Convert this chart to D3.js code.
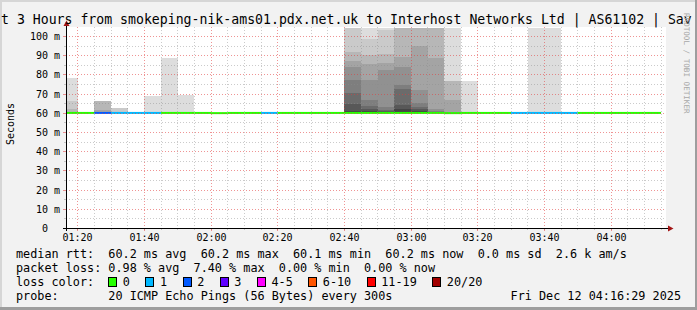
<!DOCTYPE html>
<html>
<head>
<meta charset="utf-8">
<script src="https://cdn.jsdelivr.net/npm/d3@7/dist/d3.min.js"></script>
<style>
  body { margin: 0; background: #f2f2f2; }
  svg { display: block; }
  text { font-family: "DejaVu Sans Mono", monospace; white-space: pre; }
</style>
</head>
<body>
<svg width="697" height="310"></svg>
<script>
// graph window (UTC) and value range
const day = "2025-12-12";
const windowStart = "01:16:29";
const windowEnd = "04:16:29";
const yMax = 104.7;

// 5 minute steps, start of each step
const binTimes = [
  "01:15", "01:20", "01:25", "01:30", "01:35", "01:40", "01:45", "01:50", "01:55", "02:00", "02:05", "02:10",
  "02:15", "02:20", "02:25", "02:30", "02:35", "02:40", "02:45", "02:50", "02:55", "03:00", "03:05", "03:10",
  "03:15", "03:20", "03:25", "03:30", "03:35", "03:40", "03:45", "03:50", "03:55", "04:00", "04:05", "04:10"
];
// median rtt (ms)
const median = [
  60.2, 60.2, 60.2, 60.2, 60.2, 60.2, 60.2, 60.2, 60.2, 60.1, 60.2, 60.2,
  60.2, 60.2, 60.2, 60.2, 60.2, 60.2, 60.2, 60.2, 60.2, 60.2, 60.2, 60.1,
  60.2, 60.2, 60.2, 60.2, 60.2, 60.2, 60.2, 60.2, 60.2, 60.2, 60.2, 60.2
];
// lost pings out of 20
const loss = [
  0, 0, 2, 1, 1, 1, 0, 0, 0, 0, 0, 0,
  1, 0, 0, 0, 0, 0, 0, 0, 0, 0, 0, 0,
  0, 0, 0, 1, 1, 1, 1, 0, 0, 0, 0, 0
];

// smoke: steps where pings sit above the median, outermost first (ms).
// pings not listed are on the median line
const smokeBins = ["01:15", "01:25", "01:30", "01:40", "01:45", "01:50",
  "02:40", "02:45", "02:50", "02:55", "03:00", "03:05", "03:10", "03:15", "03:35", "03:40"];
const smokeTops = [
  [78.4, 66.5, 62.0, 60.5],
  [66.5, 66.5, 66.5, 61.5, 60.5],
  [62.8, 62.8, 60.5],
  [68.9],
  [88.9],
  [69.6],
  [120, 120, 92.0, 87.1, 84.2, 77.6, 70.6, 65.1, 61.0, 60.5],
  [120, 98.6, 90.3, 85.6, 77.6, 66.8, 63.7, 62.0, 61.0, 60.5],
  [120, 103.3, 91.1, 86.3, 82.4, 63.3, 61.6, 61.0, 60.6, 60.4],
  [120, 120, 120, 89.4, 84.2, 74.6, 72.9, 64.2, 62.1, 60.6],
  [120, 120, 120, 94.9, 72.0, 65.4, 63.5, 62.5, 61.0, 60.5],
  [120, 120, 120, 89.0, 62.5, 61.0, 60.6],
  [120, 76.7, 76.7, 66.8, 60.6],
  [76.7],
  [120],
  [120]
];
const smokeGreys = ["#dddddd", "#cacaca", "#b7b7b7", "#a4a4a4", "#919191",
  "#7e7e7e", "#6b6b6b", "#585858", "#454545", "#323232"];

const lossLevels = [0, 1, 2, 3, 5, 10, 19, 20];
const lossLabels = ["0", "1", "2", "3", "4-5", "6-10", "11-19", "20/20"];
const lossColors = ["#26ff00", "#00b8ff", "#0059ff", "#5e00ff", "#ff00ff", "#ff5500", "#ff0000", "#a10000"];

const yTicks = [0, 10, 20, 30, 40, 50, 60, 70, 80, 90, 100];
const yUnit = " m";

const title = "t 3 Hours from smokeping-nik-ams01.pdx.net.uk to Interhost Networks Ltd | AS61102 | Sav";
const yTitle = "Seconds";
const legendRtt = "median rtt:  60.2 ms avg  60.2 ms max  60.1 ms min  60.2 ms now  0.0 ms sd  2.6 k am/s";
const legendLoss = "packet loss: 0.98 % avg  7.40 % max  0.00 % min  0.00 % now";
const legendColor = "loss color:";
const legendProbe = "probe:       20 ICMP Echo Pings (56 Bytes) every 300s";
const stamp = "Fri Dec 12 04:16:29 2025";
const watermark = "RRDTOOL / TOBI OETIKER";

const parse = d3.utcParse("%Y-%m-%d %H:%M:%S");
const at = (s) => parse(`${day} ${s.length === 5 ? s + ":00" : s}`);
const stepEnd = (d) => d3.utcMinute.offset(d, 5);

const svg = d3.select("svg");
const width = +svg.attr("width");
const height = +svg.attr("height");
const plot = { left: 66, right: 666, top: 27, bottom: 228 };

const x = d3.scaleUtc().domain([at(windowStart), at(windowEnd)]).range([plot.left, plot.right]);
const y = d3.scaleLinear().domain([0, yMax]).range([plot.bottom + 0.5, plot.top + 0.5]);
const px = (v) => Math.floor(v) + 0.5;
const lossColor = (n) => lossColors[lossLevels.findIndex((l) => n <= l)];

const gridMinor = "rgba(140,140,140,0.45)";
const gridMajor = "rgba(225,60,60,0.55)";

// background + shading
svg.append("rect").attr("width", width).attr("height", height).attr("fill", "#f2f2f2");
svg.append("path").attr("d", `M0,0H${width}V2H2V${height}H0Z`).attr("fill", "#d6d6d6");
svg.append("path")
  .attr("d", `M${width},0V${height}H0V${height - 3}H${width - 2}V0Z`)
  .attr("fill", "#9e9e9e");

svg.append("rect")
  .attr("x", plot.left).attr("y", plot.top)
  .attr("width", plot.right - plot.left).attr("height", plot.bottom - plot.top)
  .attr("fill", "#fff");

svg.append("clipPath").attr("id", "plotclip")
  .append("rect")
  .attr("x", plot.left).attr("y", plot.top)
  .attr("width", plot.right - plot.left).attr("height", plot.bottom - plot.top + 1);

// smoke
const smoke = svg.append("g").attr("clip-path", "url(#plotclip)").attr("shape-rendering", "crispEdges");
smokeBins.forEach((s, k) => {
  const t0 = at(s);
  const m = median[binTimes.indexOf(s)];
  smoke.append("g")
    .selectAll("rect")
    .data(smokeTops[k])
    .join("rect")
    .attr("x", x(t0))
    .attr("width", x(stepEnd(t0)) - x(t0))
    .attr("y", (d) => y(Math.min(d, yMax)))
    .attr("height", (d) => y(m) - y(Math.min(d, yMax)))
    .attr("fill", (d, i) => smokeGreys[i]);
});

// median line coloured by loss
svg.append("g")
  .attr("clip-path", "url(#plotclip)")
  .selectAll("line")
  .data(binTimes.map((s, i) => ({ t0: at(s), m: median[i], n: loss[i] })))
  .join("line")
  .attr("x1", (d) => x(d.t0))
  .attr("x2", (d) => x(stepEnd(d.t0)))
  .attr("y1", (d) => y(d.m))
  .attr("y2", (d) => y(d.m))
  .attr("stroke", (d) => lossColor(d.n))
  .attr("stroke-width", 2);

// grid
const grid = svg.append("g").attr("fill", "none").attr("stroke-dasharray", "1,2");
const hLines = y.ticks(20).filter((v) => v > 0);
grid.selectAll("line.h")
  .data(hLines)
  .join("line")
  .attr("x1", plot.left).attr("x2", plot.right)
  .attr("y1", (d) => px(y(d))).attr("y2", (d) => px(y(d)))
  .attr("stroke", (d) => (d % 10 === 0 ? gridMajor : gridMinor));
const vLines = d3.utcMinute.every(5).range(...x.domain());
grid.selectAll("line.v")
  .data(vLines)
  .join("line")
  .attr("y1", plot.top).attr("y2", plot.bottom)
  .attr("x1", (d) => px(x(d))).attr("x2", (d) => px(x(d)))
  .attr("stroke", (d) => (d.getUTCMinutes() % 20 === 0 ? gridMajor : gridMinor));

// axes
const xMinor = svg.append("g")
  .attr("transform", `translate(0,${plot.bottom})`)
  .call(d3.axisBottom(x).tickValues(vLines).tickFormat("").tickSize(2));
xMinor.select(".domain").remove();
xMinor.selectAll(".tick").attr("transform", (d) => `translate(${px(x(d))},0)`);
xMinor.selectAll(".tick line").attr("stroke", gridMinor);

const xAxis = svg.append("g")
  .attr("transform", `translate(0,${plot.bottom})`)
  .call(d3.axisBottom(x).ticks(d3.utcMinute.every(20)).tickFormat(d3.utcFormat("%H:%M")).tickSize(3).tickPadding(3));
xAxis.select(".domain").remove();
xAxis.selectAll(".tick").attr("transform", (d) => `translate(${px(x(d))},0)`);
xAxis.selectAll(".tick line").attr("stroke", gridMajor);
xAxis.selectAll("text").attr("font-size", 10).attr("fill", "#000");

const yMinor = svg.append("g")
  .attr("transform", `translate(${plot.left},0)`)
  .call(d3.axisLeft(y).tickValues(hLines.filter((v) => v % 10 !== 0)).tickFormat("").tickSize(2));
yMinor.select(".domain").remove();
yMinor.selectAll(".tick").attr("transform", (d) => `translate(0,${px(y(d))})`);
yMinor.selectAll(".tick line").attr("stroke", gridMinor);

const yAxis = svg.append("g")
  .attr("transform", `translate(${plot.left},0)`)
  .call(d3.axisLeft(y).tickValues(yTicks)
    .tickFormat((v) => (v === 0 ? "0  " : `${v}${yUnit}`))
    .tickSize(3).tickPadding(3));
yAxis.select(".domain").remove();
yAxis.selectAll(".tick").attr("transform", (d) => `translate(0,${px(y(d))})`);
yAxis.selectAll(".tick line").attr("stroke", gridMajor);
yAxis.selectAll("text").attr("font-size", 10).attr("fill", "#000");

// axis lines + arrows
svg.append("path")
  .attr("d", `M${plot.left - 3},${plot.bottom + 0.5}H${plot.right + 4}M${plot.left + 0.5},${plot.bottom + 3}V${plot.top - 3}`)
  .attr("stroke", "#000").attr("fill", "none");
svg.append("path")
  .attr("d", `M${plot.right + 2},${plot.bottom - 2.5}L${plot.right + 7.5},${plot.bottom + 0.5}L${plot.right + 2},${plot.bottom + 3.5}Z`)
  .attr("fill", "#a31515");
svg.append("path")
  .attr("d", `M${plot.left - 2.5},${plot.top - 1}L${plot.left + 0.5},${plot.top - 6.5}L${plot.left + 3.5},${plot.top - 1}Z`)
  .attr("fill", "#a31515");

// texts
svg.append("text").attr("x", 1).attr("y", 24).attr("font-size", 13.2).attr("fill", "#000").text(title);

svg.append("text")
  .attr("transform", "translate(14,124) rotate(-90)")
  .attr("text-anchor", "middle").attr("font-size", 10).attr("fill", "#000")
  .text(yTitle);

svg.append("text")
  .attr("transform", "translate(684,13) rotate(90)")
  .attr("font-size", 7.6).attr("fill", "#a8a8a8")
  .text(watermark);

const fs = 11.8;
const cw = fs * 0.602;
const legend = svg.append("g").attr("font-size", fs).attr("fill", "#000");
const lx = 16;
legend.append("text").attr("x", lx).attr("y", 258).text(legendRtt);
legend.append("text").attr("x", lx).attr("y", 272).text(legendLoss);
legend.append("text").attr("x", lx).attr("y", 286).text(legendColor);
legend.append("text").attr("x", lx).attr("y", 300).text(legendProbe);
legend.append("text").attr("x", 681).attr("y", 300).attr("text-anchor", "end").text(stamp);

let bx = lx + 13 * cw;
lossLabels.forEach((lab, i) => {
  legend.append("rect")
    .attr("x", Math.round(bx) + 0.5).attr("y", 277.5)
    .attr("width", 8).attr("height", 9)
    .attr("fill", lossColors[i]).attr("stroke", "#000");
  legend.append("text").attr("x", bx + 14.5).attr("y", 286).text(lab);
  bx += (lab.length + 4.23) * cw;
});
</script>
</body>
</html>
